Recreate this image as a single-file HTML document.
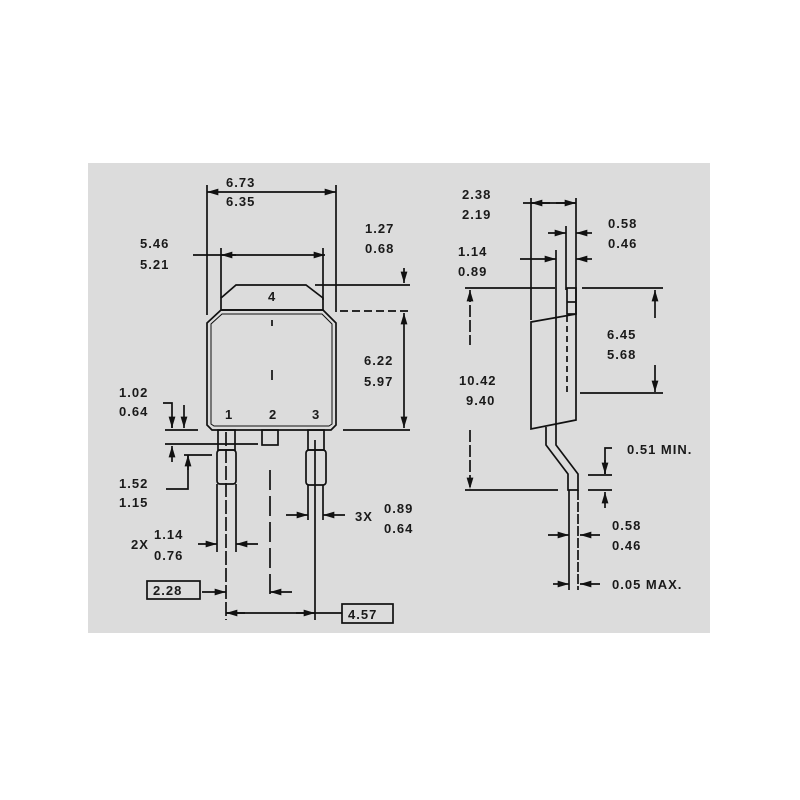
<!DOCTYPE html>
<html><head><style>
html,body{margin:0;padding:0;background:#fff;}
svg{display:block}
text{font-family:"Liberation Sans",Arial,sans-serif;font-size:13px;font-weight:bold;fill:#1a1a1a;letter-spacing:1px;}
</style></head><body>
<svg width="800" height="800" viewBox="0 0 800 800" xmlns="http://www.w3.org/2000/svg">
<defs>
<marker id="a" viewBox="0 0 10 6" refX="10" refY="3" markerWidth="7" markerHeight="4" orient="auto-start-reverse"><path d="M0,0L10,3L0,6z" fill="#111"/></marker>
</defs>
<rect x="88" y="163" width="622" height="470" fill="#dcdcdc"/>
<g stroke="#111" stroke-width="1.7" fill="none">
<line x1="207" y1="185" x2="207" y2="315"/>
<line x1="336" y1="185" x2="336" y2="312"/>
<line x1="207" y1="192" x2="336" y2="192" marker-start="url(#a)" marker-end="url(#a)"/>
<line x1="221" y1="248" x2="221" y2="298"/>
<line x1="323" y1="248" x2="323" y2="300"/>
<line x1="193" y1="255" x2="325" y2="255" marker-end="url(#a)"/>
<line x1="221" y1="255" x2="236" y2="255" marker-start="url(#a)"/>
<polygon points="236,285 306,285 323,298 323,310 221,310 221,298"/>
<polygon points="221,310 323,310 336,323 336,425 331,430 212,430 207,425 207,323"/>
<polygon points="222,314 322,314 332,324 332,424 329,426 214,426 211,424 211,324" stroke-width="1"/>
<line x1="272" y1="320" x2="272" y2="340" stroke-dasharray="6 20"/>
<line x1="272" y1="370" x2="272" y2="380"/>
<line x1="315" y1="285" x2="410" y2="285"/>
<line x1="404" y1="268" x2="404" y2="283" marker-end="url(#a)"/>
<line x1="340" y1="311" x2="410" y2="311" stroke-dasharray="8 4"/>
<line x1="404" y1="313" x2="404" y2="428" marker-start="url(#a)" marker-end="url(#a)"/>
<line x1="343" y1="430" x2="410" y2="430"/>
<polyline points="163,403 172,403 172,428"/>
<line x1="172" y1="420" x2="172" y2="428" marker-end="url(#a)"/>
<line x1="184" y1="405" x2="184" y2="428" marker-end="url(#a)"/>
<line x1="165" y1="430" x2="198" y2="430"/>
<rect x="218" y="430" width="17" height="20"/>
<rect x="217" y="450" width="19" height="34" rx="3"/>
<line x1="226" y1="432" x2="226" y2="620" stroke-dasharray="14 3"/>
<line x1="217" y1="484" x2="217" y2="552"/>
<line x1="236" y1="484" x2="236" y2="552"/>
<rect x="262" y="430" width="16" height="15"/>
<rect x="308" y="430" width="16" height="20"/>
<rect x="306" y="450" width="20" height="35" rx="3"/>
<line x1="308" y1="485" x2="308" y2="520"/>
<line x1="323" y1="485" x2="323" y2="520"/>
<line x1="315" y1="440" x2="315" y2="620"/>
<line x1="270" y1="470" x2="270" y2="600" stroke-dasharray="20 6"/>
<line x1="165" y1="444" x2="258" y2="444"/>
<line x1="172" y1="446" x2="172" y2="462" marker-start="url(#a)"/>
<line x1="184" y1="455" x2="212" y2="455"/>
<polyline points="188,455 188,489 166,489"/>
<line x1="188" y1="455" x2="188" y2="470" marker-start="url(#a)"/>
<line x1="286" y1="515" x2="308" y2="515" marker-end="url(#a)"/>
<line x1="345" y1="515" x2="323" y2="515" marker-end="url(#a)"/>
<line x1="198" y1="544" x2="217" y2="544" marker-end="url(#a)"/>
<line x1="258" y1="544" x2="236" y2="544" marker-end="url(#a)"/>
<rect x="147" y="581" width="53" height="18"/>
<line x1="202" y1="592" x2="226" y2="592" marker-end="url(#a)"/>
<line x1="292" y1="592" x2="270" y2="592" marker-end="url(#a)"/>
<rect x="342" y="604" width="51" height="19"/>
<line x1="226" y1="613" x2="342" y2="613"/>
<line x1="226" y1="613" x2="245" y2="613" marker-start="url(#a)"/>
<line x1="296" y1="613" x2="315" y2="613" marker-end="url(#a)"/>

<line x1="531" y1="198" x2="531" y2="320"/>
<line x1="576" y1="198" x2="576" y2="314"/>
<line x1="523" y1="203" x2="576" y2="203"/>
<line x1="531" y1="203" x2="550" y2="203" marker-start="url(#a)"/>
<line x1="556" y1="203" x2="576" y2="203" marker-end="url(#a)"/>
<line x1="566" y1="226" x2="566" y2="290"/>
<line x1="548" y1="233" x2="566" y2="233" marker-end="url(#a)"/>
<line x1="592" y1="233" x2="576" y2="233" marker-end="url(#a)"/>
<line x1="556" y1="250" x2="556" y2="423"/>
<line x1="520" y1="259" x2="556" y2="259" marker-end="url(#a)"/>
<line x1="592" y1="259" x2="576" y2="259" marker-end="url(#a)"/>
<line x1="465" y1="288" x2="555" y2="288"/>
<line x1="582" y1="288" x2="663" y2="288"/>
<rect x="567" y="288" width="9" height="26"/>
<line x1="567" y1="302" x2="576" y2="302"/>
<polygon points="531,322 576,314 576,420 531,429"/>
<line x1="567" y1="316" x2="567" y2="393" stroke-dasharray="6 4"/>
<line x1="655" y1="290" x2="655" y2="318" marker-start="url(#a)"/>
<line x1="655" y1="365" x2="655" y2="392" marker-end="url(#a)"/>
<line x1="580" y1="393" x2="663" y2="393"/>
<line x1="470" y1="290" x2="470" y2="345" stroke-dasharray="12 3" marker-start="url(#a)"/>
<line x1="470" y1="430" x2="470" y2="489" stroke-dasharray="12 3" marker-end="url(#a)"/>
<path d="M546,427 L546,445 L568,474 L568,490 L578,490 L578,474 L556,445 L556,423"/>
<line x1="465" y1="490" x2="558" y2="490"/>
<polyline points="612,448 605,448 605,474"/>
<line x1="605" y1="460" x2="605" y2="474" marker-end="url(#a)"/>
<line x1="588" y1="475" x2="612" y2="475"/>
<line x1="588" y1="490" x2="612" y2="490"/>
<line x1="605" y1="508" x2="605" y2="492" marker-end="url(#a)"/>
<line x1="569" y1="490" x2="569" y2="590"/>
<line x1="578" y1="490" x2="578" y2="590" stroke-dasharray="10 2"/>
<line x1="548" y1="535" x2="569" y2="535" marker-end="url(#a)"/>
<line x1="600" y1="535" x2="580" y2="535" marker-end="url(#a)"/>
<line x1="553" y1="584" x2="569" y2="584" marker-end="url(#a)"/>
<line x1="600" y1="584" x2="580" y2="584" marker-end="url(#a)"/>
</g>
<g>
<text x="226" y="187">6.73</text><text x="226" y="206">6.35</text>
<text x="140" y="248">5.46</text><text x="140" y="269">5.21</text>
<text x="365" y="233">1.27</text><text x="365" y="253">0.68</text>
<text x="268" y="301" font-size="10">4</text>
<text x="364" y="365">6.22</text><text x="364" y="386">5.97</text>
<text x="119" y="397">1.02</text><text x="119" y="416">0.64</text>
<text x="225" y="419" font-size="11">1</text><text x="269" y="419" font-size="11">2</text><text x="312" y="419" font-size="11">3</text>
<text x="119" y="488">1.52</text><text x="119" y="507">1.15</text>
<text x="355" y="521" font-size="11">3X</text>
<text x="384" y="513">0.89</text><text x="384" y="533">0.64</text>
<text x="131" y="549" font-size="11">2X</text>
<text x="154" y="539">1.14</text><text x="154" y="560">0.76</text>
<text x="153" y="595">2.28</text>
<text x="348" y="619">4.57</text>
<text x="462" y="199">2.38</text><text x="462" y="219">2.19</text>
<text x="608" y="228">0.58</text><text x="608" y="248">0.46</text>
<text x="458" y="256">1.14</text><text x="458" y="276">0.89</text>
<text x="607" y="339">6.45</text><text x="607" y="359">5.68</text>
<text x="459" y="385">10.42</text><text x="466" y="405">9.40</text>
<text x="627" y="454">0.51 MIN.</text>
<text x="612" y="530">0.58</text><text x="612" y="550">0.46</text>
<text x="612" y="589" font-size="12">0.05 MAX.</text>
</g>
</svg>
</body></html>
